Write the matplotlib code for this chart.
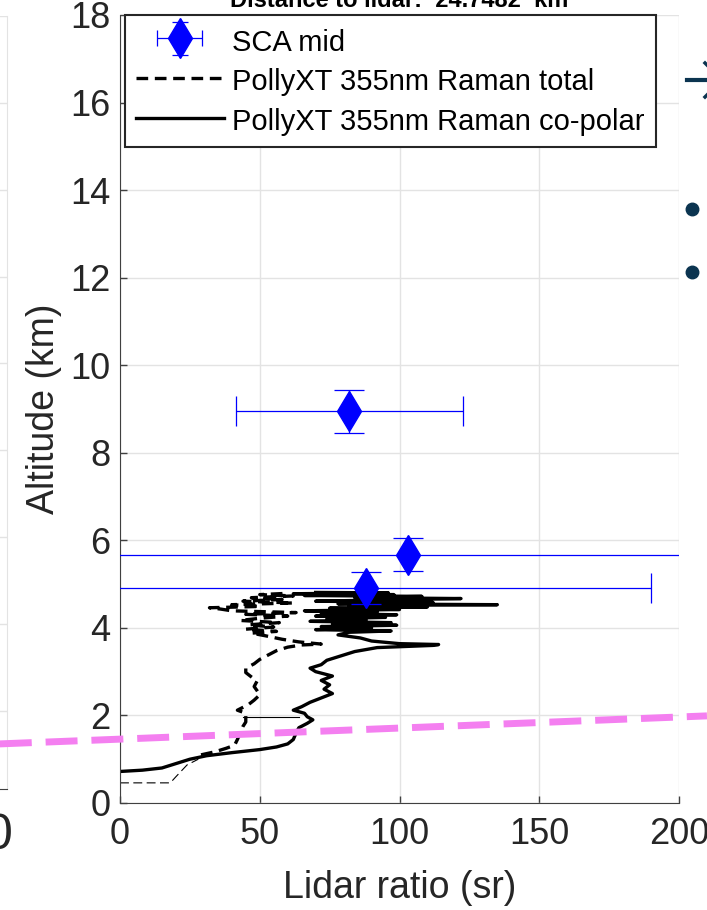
"""
Lidar ratio profile vs SCA mid retrievals (recreated panel).
Saves out.png
"""

import numpy as np
import matplotlib
matplotlib.use("Agg")
import matplotlib.pyplot as plt
from matplotlib.lines import Line2D
from matplotlib.legend_handler import HandlerErrorbar

plt.rcParams["font.family"] = ["Liberation Sans", "DejaVu Sans"]

W, H = 707, 910

# SCA mid retrievals
sca_lr = [82, 103, 88]
sca_alt = [8.95, 5.67, 4.91]
sca_lr_err = [40.6, 150, 102]
sca_alt_err = [0.49, 0.38, 0.37]

# PollyXT 355nm Raman co-polar (solid)
copol_alt = [0.72, 0.75, 0.80, 0.90, 1.00, 1.08, 1.15, 1.22, 1.28, 1.35, 1.45,
             1.60, 1.72, 1.82, 1.90, 1.97, 2.05, 2.12, 2.20, 2.30, 2.40, 2.50,
             2.60, 2.70, 2.80, 2.90, 3.00, 3.08, 3.16, 3.26, 3.36, 3.46, 3.55,
             3.60, 3.62, 3.64, 3.70, 3.77, 3.84, 3.90, 3.93, 3.96, 4.00, 4.03,
             4.06, 4.09, 4.12, 4.15, 4.18, 4.21, 4.24, 4.27, 4.30, 4.33, 4.36,
             4.39, 4.42, 4.45, 4.48, 4.51, 4.53, 4.55, 4.58, 4.61, 4.64, 4.67,
             4.69, 4.72, 4.74, 4.76, 4.78, 4.80, 4.81]
copol_lr = [0, 8, 15, 20, 25, 31, 40, 50, 56, 60, 62,
            63, 64, 67, 69, 67, 66, 62, 65, 68, 72, 76,
            73, 75, 72, 76, 70, 68, 72, 74, 79, 84, 92,
            112, 114, 100, 90, 86, 78, 82, 97, 70, 90, 72,
            99, 76, 97, 68, 88, 74, 95, 70, 99, 72, 92,
            66, 100, 75, 110, 82, 135, 78, 112, 70, 96, 122,
            84, 108, 66, 98, 62, 96, 70]

# PollyXT 355nm Raman total (dashed)
total_alt = [1.10, 1.17, 1.25, 1.32, 1.45, 1.60, 1.75, 1.85, 1.95, 2.05, 2.12,
             2.25, 2.35, 2.47, 2.57, 2.66, 2.78, 2.88, 2.98, 3.08, 3.18, 3.28,
             3.38, 3.48, 3.56, 3.61, 3.63, 3.68, 3.74, 3.82, 3.88, 3.92, 3.97,
             4.02, 4.07, 4.12, 4.17, 4.22, 4.27, 4.31, 4.35, 4.39, 4.43, 4.46,
             4.49, 4.53, 4.57, 4.61, 4.65, 4.69, 4.73, 4.76, 4.79]
total_lr = [29, 34, 38, 41, 42, 43, 44, 45, 45, 45, 42,
            46, 48, 50, 49, 48, 49, 47, 45, 45, 48, 50,
            53, 56, 60, 65, 72, 64, 58, 52, 47, 56, 45,
            55, 46, 57, 43, 50, 60, 45, 63, 40, 36, 32,
            50, 40, 62, 44, 58, 47, 62, 50, 60]

# thin low-level pieces
thin_total_alt = [0.46, 0.46, 0.60, 0.87, 1.00]
thin_total_lr = [0, 18, 20, 24, 28]
thin_link_alt = [1.97, 1.97]
thin_link_lr = [44, 64]

# overlaid boundary line (extends across the slide)
boundary_lr = [-43, 210]
boundary_alt = [1.35, 1.99]


def fx(px):
    return px / W


def fy(py):
    return 1 - py / H


fig = plt.figure(figsize=(W / 100, H / 100), dpi=100)

# partial neighbour panel at left edge
axl = fig.add_axes([fx(-401), fy(789), fx(408), fy(16) - fy(789)])
axl.set_xlim(-200, 4)
axl.set_ylim(-0.9, 8)
axl.set_xticks([0])
axl.set_xticklabels(["0"])
axl.set_yticks(range(0, 9))
axl.set_yticklabels([])
axl.tick_params(axis="x", length=0, labelsize=36, pad=17, labelcolor="#262626")
axl.tick_params(axis="y", length=0)
axl.grid(True, axis="y", color="#e3e3e3", lw=1)
axl.spines["top"].set_visible(False)
axl.spines["left"].set_visible(False)
axl.spines["right"].set_color("#e3e3e3")
axl.spines["bottom"].set_color("#404040")

# main panel
ax = fig.add_axes([fx(120), fy(803), fx(559), fy(15) - fy(803)])

ax.plot(thin_total_lr, thin_total_alt, color="black", lw=0.8, ls=(0, (8, 4)))
ax.plot(thin_link_lr, thin_link_alt, color="black", lw=0.8)
ax.plot(total_lr, total_alt, color="black", lw=2.4, ls=(0, (3.5, 2)),
        label="PollyXT 355nm Raman total")
ax.plot(copol_lr, copol_alt, color="black", lw=2.4,
        label="PollyXT 355nm Raman co-polar")
ax.errorbar(sca_lr, sca_alt, xerr=sca_lr_err, yerr=sca_alt_err, fmt="d",
            color="blue", ms=20, elinewidth=0.9, capsize=11, capthick=0.9,
            zorder=5)
# legend proxy with smaller caps, like the MATLAB legend icon
sca_proxy = ax.errorbar([np.nan], [np.nan], xerr=[1], yerr=[1], fmt="d",
                        color="blue", ms=20, elinewidth=0.9, capsize=6,
                        capthick=0.9, label="SCA mid")

ax.plot(boundary_lr, boundary_alt, color="#f47ff0", lw=5,
        ls=(0, (4.6, 2.0)), clip_on=False, zorder=6)

ax.set_xlim(0, 200)
ax.set_ylim(0, 18)
ax.set_xticks(range(0, 201, 50))
ax.set_yticks(range(0, 19, 2))
ax.grid(True, color="#e3e3e3", lw=1)
ax.set_axisbelow(True)
ax.spines["top"].set_visible(False)
ax.spines["right"].set_visible(False)
for s in ("left", "bottom"):
    ax.spines[s].set_color("#404040")
ax.tick_params(direction="in", length=5, width=1, color="#404040",
               labelsize=26, labelcolor="#262626", pad=7)
ax.tick_params(axis="x", pad=10)
ax.set_xlabel("Lidar ratio (sr)", fontsize=27, color="#262626", labelpad=13)
ax.set_ylabel("Altitude (km)", fontsize=27, color="#262626", labelpad=6)
ax.set_title("Distance to lidar:  24.7482  km", fontsize=17,
             fontweight="bold", pad=5.8)

handles, labels = ax.get_legend_handles_labels()
order = [labels.index("SCA mid"), labels.index("PollyXT 355nm Raman total"),
         labels.index("PollyXT 355nm Raman co-polar")]
leg = ax.legend([handles[i] for i in order], [labels[i] for i in order],
                loc="upper left", bbox_to_anchor=(fx(125), fy(15)),
                bbox_transform=fig.transFigure, borderaxespad=0,
                fontsize=21, handlelength=3, handletextpad=0.3,
                handleheight=1.2, labelspacing=0.3, borderpad=0.38,
                fancybox=False, framealpha=1, edgecolor="#262626",
                handler_map={sca_proxy: HandlerErrorbar(xerr_size=0.77,
                                                        yerr_size=0.55)})
leg.get_frame().set_linewidth(1.5)

# navy slide elements cut off at the right edge
navy = "#0b3450"
fig.add_artist(Line2D([fx(687), fx(730)], [fy(80), fy(80)], color=navy,
                      lw=3, transform=fig.transFigure))
fig.add_artist(Line2D([fx(705), fx(722), fx(705)], [fy(63), fy(80), fy(97)],
                      color=navy, lw=2.5, transform=fig.transFigure))
fig.add_artist(Line2D([fx(692), fx(692)], [fy(209), fy(272)], ls="none",
                      marker="o", ms=9, color=navy, transform=fig.transFigure))

fig.savefig("out.png", dpi=100)
